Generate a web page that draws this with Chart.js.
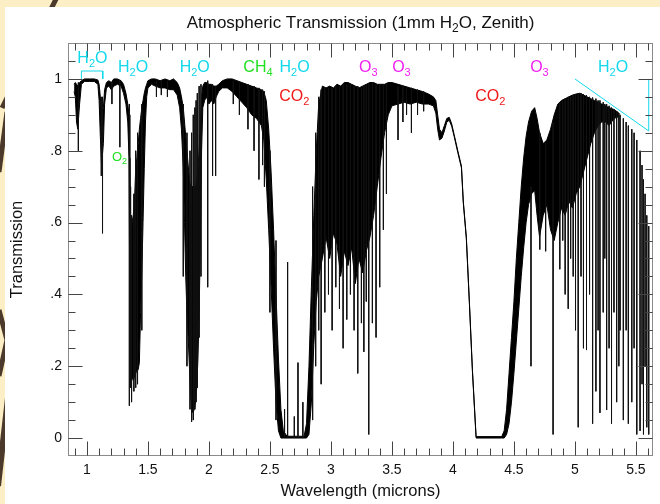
<!DOCTYPE html>
<html>
<head>
<meta charset="utf-8">
<title>Atmospheric Transmission</title>
<script src="https://cdn.jsdelivr.net/npm/chart.js@4.4.0/dist/chart.umd.min.js"></script>
<style>
  html, body { margin: 0; padding: 0; }
  body { width: 660px; height: 504px; overflow: hidden; position: relative; background: #fcefc6; }
  #deco { position: absolute; left: 0; top: 0; }
  #panel { position: absolute; left: 5px; top: 7px; width: 655px; height: 497px; background: #fff; }
</style>
</head>
<body>
<svg id="deco" width="660" height="504">
  <g stroke="#4b3a2b" stroke-linecap="butt" fill="none">
    <line x1="57" y1="-3" x2="2" y2="108" stroke-width="5"/>
    <line x1="7" y1="112" x2="-1" y2="172" stroke-width="5"/>
    <polyline points="-1,310 7,340 -1,376" stroke-width="5"/>
    <line x1="8" y1="398" x2="-2" y2="486" stroke-width="6"/>
  </g>
</svg>
<div id="panel"><canvas id="chart" width="655" height="497"></canvas></div>
<script>
// Atmospheric transmission, 1mm precipitable water vapour, zenith
const FONT = '"Liberation Sans", Arial, Helvetica, sans-serif';

const xTickValues = [1, 1.5, 2, 2.5, 3, 3.5, 4, 4.5, 5, 5.5];
const xTickLabels = ['1', '1.5', '2', '2.5', '3', '3.5', '4', '4.5', '5', '5.5'];
const yTickValues = [0, 0.2, 0.4, 0.6, 0.8, 1];
const yTickLabels = ['0', '.2', '.4', '.6', '.8', '1'];

// dense part of the spectrum: [wavelength, upper edge, lower edge]
const spectrumBand = [
  [0.895, 0.985, 0.965], [0.905, 0.99, 0.95], [0.915, 0.985, 0.88], [0.925, 0.98, 0.86],
  [0.94, 0.99, 0.93], [0.955, 0.995, 0.985], [0.98, 1.0, 0.993], [1.02, 1.0, 0.993],
  [1.06, 1.0, 0.993], [1.09, 0.997, 0.985], [1.10, 0.985, 0.94], [1.11, 0.95, 0.84],
  [1.12, 0.90, 0.76], [1.135, 0.92, 0.82], [1.145, 0.97, 0.93], [1.16, 0.99, 0.975],
  [1.18, 0.995, 0.98], [1.20, 0.99, 0.97], [1.22, 1.0, 0.98], [1.25, 1.0, 0.985],
  [1.28, 0.995, 0.98], [1.30, 0.985, 0.96], [1.32, 0.96, 0.93], [1.335, 0.93, 0.88],
  [1.345, 0.90, 0.78], [1.352, 0.70, 0.35], [1.36, 0.58, 0.18], [1.37, 0.60, 0.17],
  [1.38, 0.62, 0.16], [1.39, 0.66, 0.17], [1.40, 0.75, 0.18], [1.41, 0.78, 0.19],
  [1.42, 0.82, 0.19], [1.43, 0.86, 0.21], [1.44, 0.89, 0.35], [1.45, 0.92, 0.46],
  [1.46, 0.94, 0.60], [1.47, 0.96, 0.75], [1.48, 0.975, 0.88], [1.49, 0.985, 0.95],
  [1.50, 0.995, 0.975], [1.53, 1.0, 0.985], [1.56, 1.0, 0.98], [1.60, 0.995, 0.975],
  [1.64, 1.0, 0.975], [1.68, 0.995, 0.97], [1.71, 1.0, 0.97], [1.74, 0.99, 0.955],
  [1.76, 0.975, 0.92], [1.775, 0.95, 0.86], [1.79, 0.92, 0.75], [1.80, 0.88, 0.60],
  [1.81, 0.84, 0.45], [1.82, 0.80, 0.35], [1.83, 0.76, 0.28], [1.84, 0.72, 0.20],
  [1.85, 0.70, 0.12], [1.86, 0.70, 0.08], [1.87, 0.70, 0.07], [1.88, 0.70, 0.08],
  [1.89, 0.70, 0.10], [1.90, 0.72, 0.14], [1.91, 0.75, 0.22], [1.92, 0.80, 0.35],
  [1.93, 0.88, 0.55], [1.94, 0.95, 0.80], [1.95, 0.98, 0.92], [1.965, 0.99, 0.94],
  [1.98, 0.99, 0.95], [2.00, 0.985, 0.93], [2.02, 0.985, 0.94], [2.04, 0.98, 0.93],
  [2.06, 0.98, 0.95], [2.08, 0.985, 0.965], [2.11, 0.995, 0.975], [2.15, 1.0, 0.975],
  [2.19, 1.0, 0.965], [2.23, 0.995, 0.95], [2.27, 0.99, 0.935], [2.31, 0.985, 0.92],
  [2.35, 0.98, 0.90], [2.39, 0.975, 0.89], [2.43, 0.97, 0.87], [2.45, 0.965, 0.83],
  [2.47, 0.94, 0.72], [2.49, 0.86, 0.58], [2.51, 0.74, 0.42], [2.53, 0.58, 0.25],
  [2.55, 0.40, 0.10], [2.57, 0.22, 0.02], [2.59, 0.08, 0.0], [2.61, 0.02, 0.0],
  [2.64, 0.005, 0.0], [2.78, 0.005, 0.0], [2.80, 0.04, 0.0], [2.82, 0.20, 0.01],
  [2.84, 0.42, 0.10], [2.86, 0.62, 0.26], [2.88, 0.80, 0.38], [2.90, 0.93, 0.45],
  [2.93, 0.98, 0.50], [2.96, 0.975, 0.56], [2.99, 0.98, 0.50], [3.02, 0.975, 0.57],
  [3.05, 0.985, 0.54], [3.08, 0.98, 0.45], [3.11, 0.99, 0.52], [3.14, 0.99, 0.48],
  [3.17, 0.985, 0.53], [3.20, 0.98, 0.43], [3.23, 0.975, 0.50], [3.26, 0.98, 0.46],
  [3.29, 0.985, 0.52], [3.32, 0.99, 0.56], [3.35, 0.99, 0.62], [3.38, 0.985, 0.70],
  [3.41, 0.985, 0.78], [3.44, 0.985, 0.85], [3.47, 0.99, 0.90], [3.50, 0.99, 0.925],
  [3.55, 0.985, 0.93], [3.60, 0.98, 0.935], [3.65, 0.975, 0.93], [3.70, 0.97, 0.935],
  [3.75, 0.965, 0.93], [3.80, 0.958, 0.93], [3.84, 0.95, 0.925], [3.86, 0.94, 0.905],
  [3.875, 0.90, 0.86], [3.89, 0.86, 0.83], [3.91, 0.85, 0.835], [3.93, 0.87, 0.855],
  [3.95, 0.89, 0.88], [3.97, 0.893, 0.885], [3.99, 0.875, 0.868], [4.01, 0.845, 0.84],
  [4.04, 0.80, 0.795], [4.07, 0.757, 0.752], [4.085, 0.66, 0.655], [4.11, 0.56, 0.555],
  [4.135, 0.38, 0.375], [4.16, 0.19, 0.185], [4.19, 0.004, 0.0], [4.40, 0.004, 0.0],
  [4.42, 0.02, 0.0], [4.44, 0.08, 0.01], [4.46, 0.18, 0.04], [4.48, 0.28, 0.10],
  [4.50, 0.38, 0.18], [4.52, 0.50, 0.27], [4.54, 0.60, 0.36], [4.56, 0.70, 0.45],
  [4.58, 0.78, 0.53], [4.60, 0.84, 0.60], [4.62, 0.88, 0.65], [4.645, 0.91, 0.68],
  [4.67, 0.92, 0.69], [4.69, 0.89, 0.62], [4.71, 0.85, 0.56], [4.74, 0.82, 0.62],
  [4.77, 0.83, 0.65], [4.80, 0.86, 0.58], [4.83, 0.90, 0.55], [4.86, 0.93, 0.60],
  [4.89, 0.94, 0.64], [4.92, 0.945, 0.62], [4.95, 0.95, 0.66], [4.98, 0.955, 0.64],
  [5.01, 0.958, 0.68], [5.04, 0.96, 0.70], [5.07, 0.955, 0.74], [5.10, 0.95, 0.78],
  [5.13, 0.945, 0.82], [5.16, 0.94, 0.85], [5.19, 0.935, 0.87], [5.22, 0.93, 0.88],
  [5.25, 0.925, 0.88], [5.28, 0.92, 0.87], [5.32, 0.915, 0.89], [5.36, 0.905, 0.895]
];

// single absorption lines: [wavelength, top, bottom]
const absorptionLines = [
  [0.93, 0.99, 0.80], [1.118, 0.95, 0.73], [1.128, 0.95, 0.57], [1.205, 0.99, 0.93],
  [1.27, 0.995, 0.81], [1.348, 0.93, 0.09], [1.358, 0.70, 0.14], [1.366, 0.62, 0.10],
  [1.385, 0.68, 0.13], [1.40, 0.80, 0.14], [1.415, 0.85, 0.15], [1.45, 0.93, 0.30],
  [1.57, 0.995, 0.95], [1.61, 0.995, 0.955], [1.66, 0.995, 0.95], [1.79, 0.93, 0.45],
  [1.82, 0.85, 0.20], [1.845, 0.80, 0.08], [1.858, 0.85, 0.045], [1.872, 0.90, 0.05],
  [1.885, 0.92, 0.08], [1.895, 0.94, 0.10], [1.905, 0.96, 0.14], [1.92, 0.98, 0.28],
  [1.935, 0.985, 0.45], [1.99, 0.995, 0.42], [2.03, 0.985, 0.73], [2.055, 0.98, 0.73],
  [2.20, 0.995, 0.93], [2.25, 0.99, 0.90], [2.32, 0.985, 0.86], [2.37, 0.98, 0.80],
  [2.41, 0.975, 0.72], [2.44, 0.97, 0.76], [2.455, 0.965, 0.70], [2.50, 0.80, 0.35],
  [2.55, 0.55, 0.05], [2.62, 0.08, 0.0], [2.645, 0.49, 0.0], [2.70, 0.06, 0.0],
  [2.73, 0.21, 0.0], [2.77, 0.10, 0.0], [2.85, 0.70, 0.05], [2.875, 0.85, 0.20],
  [2.90, 0.95, 0.30], [2.92, 0.97, 0.15], [2.95, 0.975, 0.35], [2.98, 0.975, 0.40],
  [3.01, 0.975, 0.30], [3.04, 0.98, 0.42], [3.07, 0.98, 0.36], [3.10, 0.985, 0.25],
  [3.13, 0.985, 0.33], [3.16, 0.985, 0.40], [3.19, 0.98, 0.30], [3.22, 0.98, 0.18],
  [3.25, 0.975, 0.32], [3.27, 0.98, 0.24], [3.29, 0.985, 0.38], [3.31, 0.985, 0.01],
  [3.34, 0.99, 0.32], [3.37, 0.985, 0.28], [3.40, 0.985, 0.42], [3.43, 0.985, 0.58],
  [3.455, 0.985, 0.68], [3.55, 0.98, 0.83], [3.59, 0.98, 0.88], [3.62, 0.975, 0.90],
  [3.66, 0.975, 0.85], [3.71, 0.97, 0.90], [3.76, 0.965, 0.91], [4.64, 0.70, 0.20],
  [4.712, 0.85, 0.525], [4.76, 0.82, 0.52], [4.821, 0.88, 0.01], [4.876, 0.935, 0.47],
  [4.90, 0.94, 0.55], [4.92, 0.945, 0.40], [4.945, 0.95, 0.36], [4.965, 0.95, 0.50],
  [4.986, 0.955, 0.45], [5.005, 0.955, 0.30], [5.027, 0.96, 0.03], [5.05, 0.96, 0.45],
  [5.07, 0.958, 0.25], [5.095, 0.955, 0.245], [5.12, 0.95, 0.40], [5.145, 0.948, 0.04],
  [5.172, 0.945, 0.13], [5.19, 0.94, 0.30], [5.205, 0.94, 0.07], [5.232, 0.935, 0.35],
  [5.245, 0.93, 0.50], [5.26, 0.93, 0.078], [5.28, 0.925, 0.25], [5.30, 0.92, 0.04],
  [5.32, 0.915, 0.35], [5.342, 0.91, 0.10], [5.36, 0.905, 0.20], [5.37, 0.90, 0.30],
  [5.397, 0.89, 0.05], [5.42, 0.88, 0.30], [5.438, 0.87, 0.04], [5.466, 0.86, 0.10],
  [5.485, 0.85, 0.25], [5.507, 0.83, 0.01], [5.534, 0.80, 0.02], [5.55, 0.76, 0.15],
  [5.562, 0.72, 0.01], [5.575, 0.68, 0.20], [5.589, 0.62, 0.03], [5.605, 0.59, 0.01]
];

// molecule labels: [text, wavelength, baseline transmission, colour]; '_' marks a subscript
const CYAN = '#12d8ec', GREEN = '#22e022', RED = '#f01818', MAGENTA = '#f020f0';
const moleculeLabels = [
  ['H_2O', 1.045, 1.045, CYAN], ['H_2O', 1.378, 1.02, CYAN], ['H_2O', 1.884, 1.02, CYAN],
  ['CH_4', 2.402, 1.02, GREEN], ['H_2O', 2.702, 1.02, CYAN], ['CO_2', 2.70, 0.939, RED],
  ['O_3', 3.307, 1.02, MAGENTA], ['O_3', 3.578, 1.02, MAGENTA], ['CO_2', 4.306, 0.939, RED],
  ['O_3', 4.709, 1.02, MAGENTA], ['H_2O', 5.313, 1.02, CYAN]
];
const o2Label = ['O_2', 1.267, 0.771, GREEN];

const h2oBracket = [[0.955, 1.0], [0.955, 1.022], [1.13, 1.022], [1.13, 1.0]];
const h2oSlope = [[5.0, 1.0], [5.605, 0.855], [5.605, 1.0]];

function drawChem(ctx, text, cx, baseline, size, color) {
  const runs = [];
  for (let i = 0; i < text.length; i++) {
    if (text[i] === '_') { runs.push({ t: text[i + 1], sub: true }); i++; }
    else runs.push({ t: text[i], sub: false });
  }
  const subSize = Math.round(size * 0.68);
  let w = 0;
  runs.forEach(r => {
    ctx.font = `${r.sub ? subSize : size}px ${FONT}`;
    r.w = ctx.measureText(r.t).width;
    w += r.w;
  });
  let x = cx - w / 2;
  ctx.fillStyle = color;
  ctx.textAlign = 'left';
  ctx.textBaseline = 'alphabetic';
  runs.forEach(r => {
    ctx.font = `${r.sub ? subSize : size}px ${FONT}`;
    ctx.fillText(r.t, x, baseline + (r.sub ? size * 0.25 : 0));
    x += r.w;
  });
}

// frame with inward ticks on all four sides, major + minor
const frameTicks = {
  id: 'frameTicks',
  afterDatasetsDraw(chart) {
    const { ctx, chartArea: a, scales: { x, y } } = chart;
    const L = Math.round(a.left) + 0.5, R = Math.round(a.right) - 0.5;
    const T = Math.round(a.top) + 0.5, B = Math.round(a.bottom) - 0.5;
    ctx.save();
    ctx.lineWidth = 1;
    ctx.strokeStyle = '#8a8a8a';
    ctx.strokeRect(L, T, R - L, B - T);
    ctx.strokeStyle = '#444';
    ctx.beginPath();
    for (let i = 9; i <= 56; i++) {
      const px = Math.round(x.getPixelForValue(i / 10)) + 0.5;
      const len = i % 5 === 0 ? 14 : 7;
      ctx.moveTo(px, B); ctx.lineTo(px, B - len);
      ctx.moveTo(px, T); ctx.lineTo(px, T + len);
    }
    for (let i = 0; i <= 21; i++) {
      const py = Math.round(y.getPixelForValue(i / 20)) + 0.5;
      const len = i % 4 === 0 ? 14 : 7;
      ctx.moveTo(L, py); ctx.lineTo(L + len, py);
      ctx.moveTo(R, py); ctx.lineTo(R - len, py);
    }
    ctx.stroke();
    ctx.restore();
  }
};

const textLayer = {
  id: 'textLayer',
  afterDraw(chart) {
    const { ctx, chartArea: a, scales: { x, y } } = chart;
    ctx.save();
    drawChem(ctx, 'Atmospheric Transmission (1mm H_2O, Zenith)', (a.left + a.right) / 2, 21, 17, '#111');
    moleculeLabels.forEach(m => {
      drawChem(ctx, m[0], x.getPixelForValue(m[1]), y.getPixelForValue(m[2]), 16, m[3]);
    });
    drawChem(ctx, o2Label[0], x.getPixelForValue(o2Label[1]), y.getPixelForValue(o2Label[2]), 13, o2Label[3]);
    ctx.restore();
  }
};

const bandUpper = spectrumBand.map(p => ({ x: p[0], y: p[1] }));
const bandLower = spectrumBand.map(p => ({ x: p[0], y: p[2] }));
const linePoints = [];
absorptionLines.forEach(l => {
  linePoints.push({ x: l[0], y: l[1] }, { x: l[0], y: l[2] }, { x: l[0], y: null });
});

const ctx = document.getElementById('chart').getContext('2d');
new Chart(ctx, {
  type: 'line',
  data: {
    datasets: [
      { data: h2oBracket.map(p => ({ x: p[0], y: p[1] })), borderColor: CYAN, borderWidth: 1, fill: false },
      { data: h2oSlope.map(p => ({ x: p[0], y: p[1] })), borderColor: CYAN, borderWidth: 1, fill: false },
      { data: linePoints, borderColor: '#111', borderWidth: 1, fill: false, spanGaps: false },
      { data: bandUpper, borderColor: '#000', borderWidth: 1, backgroundColor: '#000', fill: '+1' },
      { data: bandLower, borderColor: '#000', borderWidth: 1, fill: false }
    ]
  },
  options: {
    responsive: false,
    animation: false,
    events: [],
    layout: { padding: { left: 0, top: 36, right: 7, bottom: 0 } },
    elements: { point: { radius: 0 }, line: { tension: 0 } },
    plugins: { legend: { display: false }, tooltip: { enabled: false }, title: { display: false } },
    scales: {
      x: {
        type: 'linear', min: 0.845, max: 5.64,
        grid: { display: false, drawTicks: false }, border: { display: false },
        afterBuildTicks: s => { s.ticks = xTickValues.map(v => ({ value: v })); },
        afterFit: s => { s.height = 48; },
        ticks: {
          autoSkip: false, maxRotation: 0, padding: 6, color: '#111',
          font: { family: FONT, size: 14 },
          callback: v => xTickLabels[xTickValues.indexOf(v)]
        },
        title: {
          display: true, text: 'Wavelength (microns)', color: '#111',
          font: { family: FONT, size: 16.5 }, padding: { top: 0, bottom: 3 }
        }
      },
      y: {
        type: 'linear', min: -0.05, max: 1.1,
        grid: { display: false, drawTicks: false }, border: { display: false },
        afterBuildTicks: s => { s.ticks = yTickValues.map(v => ({ value: v })); },
        afterFit: s => { s.width = 63; },
        ticks: {
          autoSkip: false, padding: 6, color: '#111',
          font: { family: FONT, size: 14 },
          callback: v => yTickLabels[yTickValues.indexOf(v)]
        },
        title: {
          display: true, text: 'Transmission', color: '#111',
          font: { family: FONT, size: 16.5 }, padding: { top: 3, bottom: 0 }
        }
      }
    }
  },
  plugins: [frameTicks, textLayer]
});
</script>
</body>
</html>
